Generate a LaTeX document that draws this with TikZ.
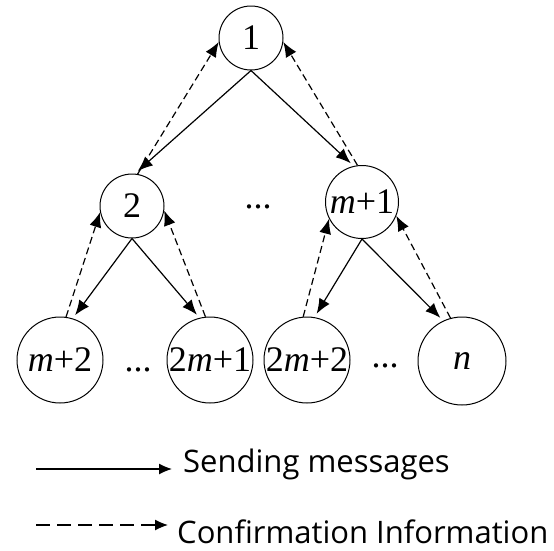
\documentclass[tikz,border=0pt]{standalone}
\usepackage{fontspec}
\setmainfont{Liberation Serif}
\newfontfamily\legendfont{Open Sans}
\usetikzlibrary{arrows.meta}

\begin{document}
\begin{tikzpicture}[x=1pt,y=-1pt,
  vtx/.style={circle,draw,line width=1pt,inner sep=0pt,
    font=\fontsize{36}{36}\selectfont},
  headtip/.style={-{Latex[length=15pt,width=12pt]}},
  send/.style={line width=1.2pt,headtip,shorten >=4pt},
  ack/.style={line width=1.2pt,dash pattern=on 7pt off 4pt,headtip},
  dotsnode/.style={inner sep=0pt,font=\fontsize{36}{36}\selectfont},
  legtext/.style={font=\legendfont\fontsize{31}{31}\selectfont,
    anchor=base west,inner sep=0pt}]
\useasboundingbox (0,0) rectangle (554,550);

% tree vertices
\node[vtx,minimum size=64pt] (n1) at (251,38) {1};
\node[vtx,minimum size=64pt] (n2) at (132,206) {2};
\node[vtx,minimum size=73pt] (m1) at (362,202) {\makebox[0pt]{\textit{m}+1}};
\node[vtx,minimum size=86pt] (b1) at (60,360) {\makebox[0pt]{\textit{m}+2}};
\node[vtx,minimum size=86pt] (b2) at (210,360) {\makebox[0pt]{2\textit{m}+1}};
\node[vtx,minimum size=86pt] (b3) at (307,360) {\makebox[0pt]{2\textit{m}+2}};
\node[vtx,minimum size=88pt] (b4) at (462,361) {\textit{n}};

% ellipses between vertices
\node[dotsnode] (d0) at (258,207) {...};
\node[dotsnode] (d1) at (138,370) {...};
\node[dotsnode] (d2) at (385,366) {...};

% messages sent down the tree
\draw[send] (n1.south) -- (n2.85);
\draw[send] (n1.south) -- (m1.103);
\draw[send] (n2.south) -- (b1.73);
\draw[send] (n2.south) -- (b2.104);
\draw[send] (m1.south) -- (b3.80);
\draw[send] (m1.south) -- (b4.115);

% confirmations sent back up
\draw[ack] (n2.80) -- (n1.187);
\draw[ack] (m1.97) -- (n1.353);
\draw[ack] (b1.82) -- (n2.191);
\draw[ack] (b2.96) -- (n2.352);
\draw[ack] (b3.95) -- (m1.207);
\draw[ack] (b4.105) -- (m1.338);

% legend
\coordinate (s0) at (36,469);
\coordinate (s1) at (172,469);
\coordinate (c0) at (36,525);
\coordinate (c1) at (168,525);
\draw[line width=1.2pt,-{Latex[length=13pt,width=11pt]}] (s0) -- (s1);
\draw[line width=1.2pt,dash pattern=on 14pt off 7pt,-{Latex[length=13pt,width=11pt]}] (c0) -- (c1);
\node[legtext] (t1) at (183,472) {Sending messages};
\node[legtext] (t2) at (177,543) {Confirmation Information};
\end{tikzpicture}
\end{document}
